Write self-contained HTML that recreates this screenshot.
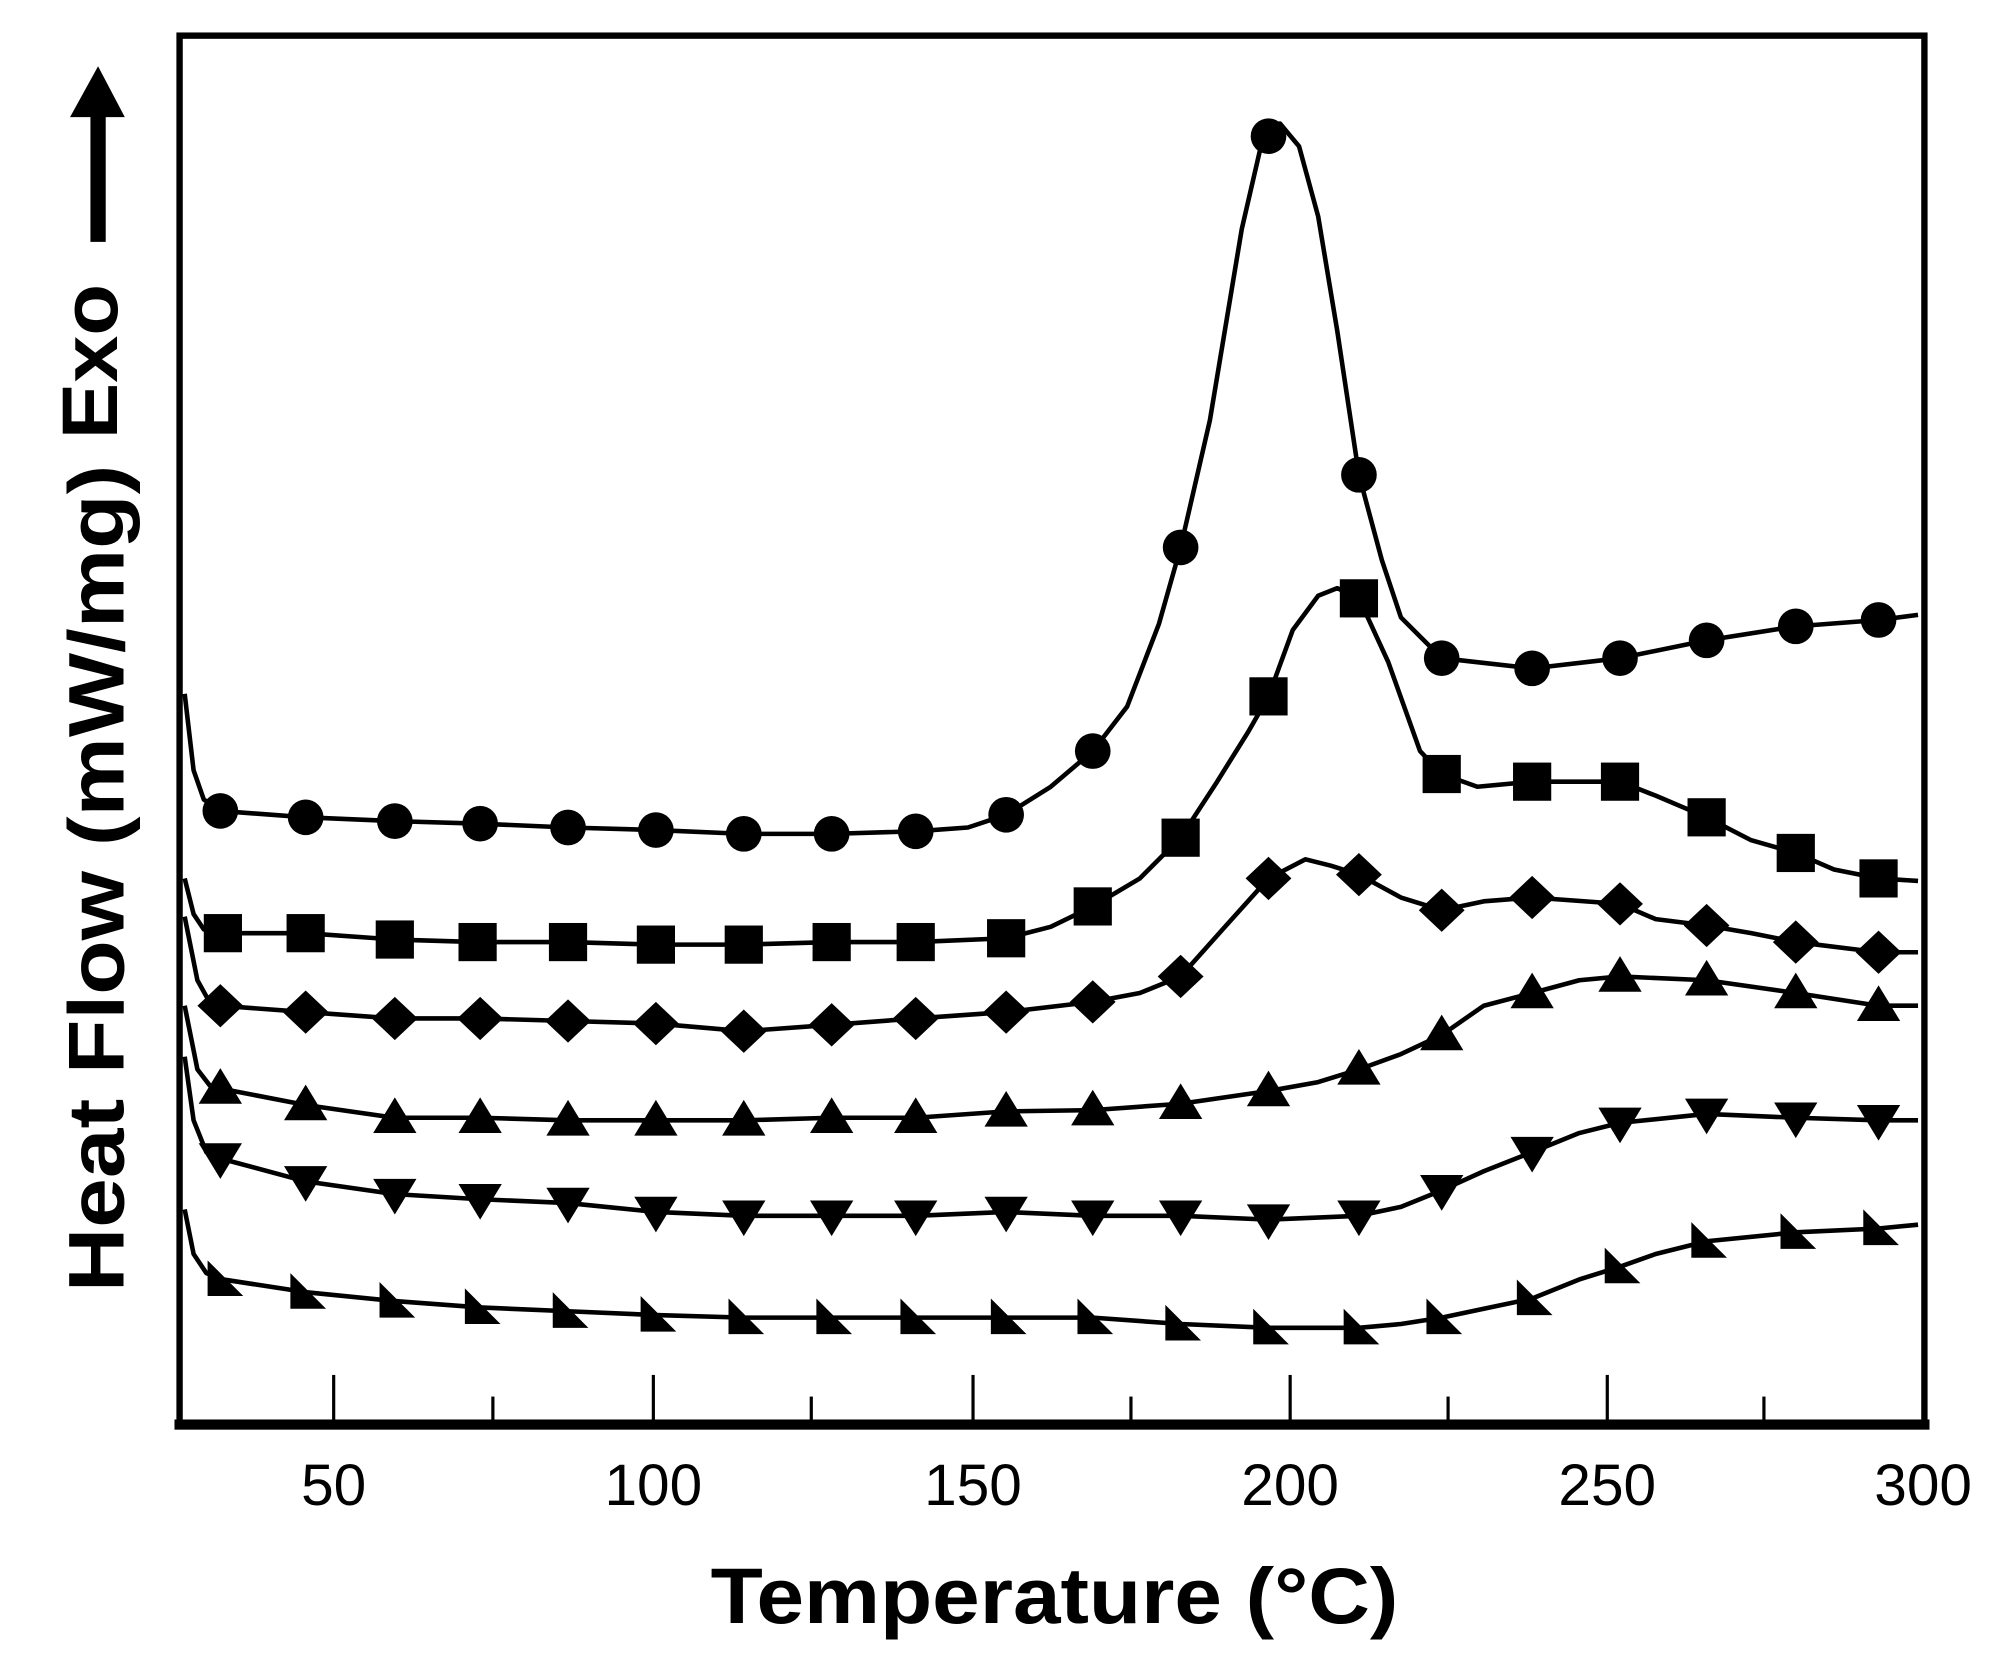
<!DOCTYPE html>
<html><head><meta charset="utf-8"><style>html,body{margin:0;padding:0;background:#fff}svg{display:block}</style></head>
<body>
<svg width="1997" height="1669" viewBox="0 0 1568 1311" preserveAspectRatio="none" xmlns="http://www.w3.org/2000/svg">
<defs>
<circle id="c" r="14"/>
<rect id="s" x="-15" y="-15" width="30" height="30"/>
<polygon id="d" points="0,-17 18,0 0,17 -18,0"/>
<polygon id="u" points="0,-16 17,12 -17,12"/>
<polygon id="v" points="0,16 17,-12 -17,-12"/>
<polygon id="r" points="-12,-15 -12,13 16,13"/>
</defs>
<g fill="none" stroke="#000" stroke-width="3.6" stroke-linejoin="round">
<polyline points="145,545 152,605 160,628 173,637 240,642 310,645 377,647 446,650 515,652 584,655 653,655 719,653 760,650 790,640 825,618 858,590 885,555 910,490 927,430 950,330 975,180 990,115 1005,97 1020,115 1035,170 1050,260 1067,373 1085,440 1100,485 1132,517 1203,525 1272,517 1340,503 1410,492 1475,487 1506,483"/>
<polyline points="145,690 152,718 160,730 175,733 240,733 310,738 375,740 446,740 515,742 584,742 653,740 719,740 790,737 825,728 858,712 895,690 927,658 955,615 980,575 996,547 1015,495 1035,468 1050,462 1067,470 1090,520 1115,590 1132,608 1160,618 1203,614 1272,614 1300,625 1340,642 1375,660 1410,670 1440,683 1475,690 1506,692"/>
<polyline points="145,720 155,770 165,788 173,790 240,795 310,800 377,800 446,802 515,804 584,810 653,805 719,800 790,795 858,787 895,780 927,767 960,730 996,690 1025,675 1045,680 1067,687 1100,705 1132,715 1165,708 1203,705 1272,710 1300,722 1340,727 1375,733 1410,740 1475,748 1506,748"/>
<polyline points="145,790 155,840 165,853 173,855 240,868 310,878 377,878 446,880 515,880 584,880 653,878 719,878 790,873 858,872 927,867 996,857 1035,850 1067,840 1100,828 1132,813 1165,790 1203,780 1240,770 1272,767 1340,770 1410,780 1475,790 1506,790"/>
<polyline points="145,830 152,880 162,905 173,910 240,928 310,938 377,942 446,945 515,952 584,955 653,955 719,955 790,952 858,955 927,955 996,958 1067,955 1100,948 1132,935 1165,920 1203,905 1240,890 1272,882 1340,875 1410,878 1475,880 1506,880"/>
<polyline points="145,950 152,985 162,1000 175,1005 240,1015 310,1022 377,1027 446,1030 515,1033 584,1035 653,1035 719,1035 790,1035 858,1035 927,1040 996,1043 1067,1043 1100,1040 1132,1035 1165,1028 1203,1020 1240,1005 1272,995 1300,985 1340,975 1410,968 1475,965 1506,962"/>
</g>
<g fill="#000">
<use href="#c" x="173" y="637"/><use href="#c" x="240" y="642"/><use href="#c" x="310" y="645"/><use href="#c" x="377" y="647"/><use href="#c" x="446" y="650"/><use href="#c" x="515" y="652"/><use href="#c" x="584" y="655"/><use href="#c" x="653" y="655"/><use href="#c" x="719" y="653"/><use href="#c" x="790" y="640"/><use href="#c" x="858" y="590"/><use href="#c" x="927" y="430"/><use href="#c" x="996" y="107"/><use href="#c" x="1067" y="373"/><use href="#c" x="1132" y="517"/><use href="#c" x="1203" y="525"/><use href="#c" x="1272" y="517"/><use href="#c" x="1340" y="503"/><use href="#c" x="1410" y="492"/><use href="#c" x="1475" y="487"/>
<use href="#s" x="175" y="733"/><use href="#s" x="240" y="733"/><use href="#s" x="310" y="738"/><use href="#s" x="375" y="740"/><use href="#s" x="446" y="740"/><use href="#s" x="515" y="742"/><use href="#s" x="584" y="742"/><use href="#s" x="653" y="740"/><use href="#s" x="719" y="740"/><use href="#s" x="790" y="737"/><use href="#s" x="858" y="712"/><use href="#s" x="927" y="658"/><use href="#s" x="996" y="547"/><use href="#s" x="1067" y="470"/><use href="#s" x="1132" y="608"/><use href="#s" x="1203" y="614"/><use href="#s" x="1272" y="614"/><use href="#s" x="1340" y="642"/><use href="#s" x="1410" y="670"/><use href="#s" x="1475" y="690"/>
<use href="#d" x="173" y="790"/><use href="#d" x="240" y="795"/><use href="#d" x="310" y="800"/><use href="#d" x="377" y="800"/><use href="#d" x="446" y="802"/><use href="#d" x="515" y="804"/><use href="#d" x="584" y="810"/><use href="#d" x="653" y="805"/><use href="#d" x="719" y="800"/><use href="#d" x="790" y="795"/><use href="#d" x="858" y="787"/><use href="#d" x="927" y="767"/><use href="#d" x="996" y="690"/><use href="#d" x="1067" y="687"/><use href="#d" x="1132" y="715"/><use href="#d" x="1203" y="705"/><use href="#d" x="1272" y="710"/><use href="#d" x="1340" y="727"/><use href="#d" x="1410" y="740"/><use href="#d" x="1475" y="748"/>
<use href="#u" x="173" y="855"/><use href="#u" x="240" y="868"/><use href="#u" x="310" y="878"/><use href="#u" x="377" y="878"/><use href="#u" x="446" y="880"/><use href="#u" x="515" y="880"/><use href="#u" x="584" y="880"/><use href="#u" x="653" y="878"/><use href="#u" x="719" y="878"/><use href="#u" x="790" y="873"/><use href="#u" x="858" y="872"/><use href="#u" x="927" y="867"/><use href="#u" x="996" y="857"/><use href="#u" x="1067" y="840"/><use href="#u" x="1132" y="813"/><use href="#u" x="1203" y="780"/><use href="#u" x="1272" y="767"/><use href="#u" x="1340" y="770"/><use href="#u" x="1410" y="780"/><use href="#u" x="1475" y="790"/>
<use href="#v" x="173" y="910"/><use href="#v" x="240" y="928"/><use href="#v" x="310" y="938"/><use href="#v" x="377" y="942"/><use href="#v" x="446" y="945"/><use href="#v" x="515" y="952"/><use href="#v" x="584" y="955"/><use href="#v" x="653" y="955"/><use href="#v" x="719" y="955"/><use href="#v" x="790" y="952"/><use href="#v" x="858" y="955"/><use href="#v" x="927" y="955"/><use href="#v" x="996" y="958"/><use href="#v" x="1067" y="955"/><use href="#v" x="1132" y="935"/><use href="#v" x="1203" y="905"/><use href="#v" x="1272" y="882"/><use href="#v" x="1340" y="875"/><use href="#v" x="1410" y="878"/><use href="#v" x="1475" y="880"/>
<use href="#r" x="175" y="1005"/><use href="#r" x="240" y="1015"/><use href="#r" x="310" y="1022"/><use href="#r" x="377" y="1027"/><use href="#r" x="446" y="1030"/><use href="#r" x="515" y="1033"/><use href="#r" x="584" y="1035"/><use href="#r" x="653" y="1035"/><use href="#r" x="719" y="1035"/><use href="#r" x="790" y="1035"/><use href="#r" x="858" y="1035"/><use href="#r" x="927" y="1040"/><use href="#r" x="996" y="1043"/><use href="#r" x="1067" y="1043"/><use href="#r" x="1132" y="1035"/><use href="#r" x="1203" y="1020"/><use href="#r" x="1272" y="995"/><use href="#r" x="1340" y="975"/><use href="#r" x="1410" y="968"/><use href="#r" x="1475" y="965"/>
</g>
<rect x="141" y="28" width="1370" height="1090" fill="none" stroke="#000" stroke-width="5"/>
<rect x="137" y="1115" width="1378" height="8" fill="#000"/>
<g stroke="#000" stroke-width="2.5">
<line x1="262" y1="1080" x2="262" y2="1118"/><line x1="513" y1="1080" x2="513" y2="1118"/><line x1="764" y1="1080" x2="764" y2="1118"/><line x1="1013" y1="1080" x2="1013" y2="1118"/><line x1="1262" y1="1080" x2="1262" y2="1118"/>
<line x1="387" y1="1097" x2="387" y2="1118"/><line x1="637" y1="1097" x2="637" y2="1118"/><line x1="888" y1="1097" x2="888" y2="1118"/><line x1="1137" y1="1097" x2="1137" y2="1118"/><line x1="1385" y1="1097" x2="1385" y2="1118"/>
</g>
<g font-family="Liberation Sans, sans-serif" font-size="46" text-anchor="middle">
<text x="262" y="1182">50</text><text x="513" y="1182">100</text><text x="764" y="1182">150</text><text x="1013" y="1182">200</text><text x="1262" y="1182">250</text><text x="1510" y="1182">300</text>
</g>
<text x="828" y="1275" font-family="Liberation Sans, sans-serif" font-size="62" font-weight="bold" text-anchor="middle" textLength="540" lengthAdjust="spacingAndGlyphs">Temperature (°C)</text>
<text transform="translate(97,1015) rotate(-90)" font-family="Liberation Sans, sans-serif" font-size="62" font-weight="bold" textLength="650" lengthAdjust="spacingAndGlyphs">Heat Flow (mW/mg)</text>
<text transform="translate(92,345) rotate(-90)" font-family="Liberation Sans, sans-serif" font-size="62" font-weight="bold" textLength="122" lengthAdjust="spacingAndGlyphs">Exo</text>
<polygon points="55,92 98,92 77,52" fill="#000"/>
<rect x="71" y="90" width="12" height="100" fill="#000"/>
</svg>
</body></html>
